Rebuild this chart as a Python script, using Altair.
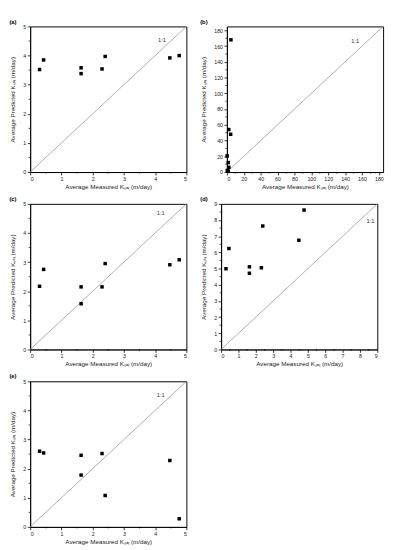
import altair as alt
import pandas as pd

measured = [0.30, 0.43, 1.63, 1.63, 2.30, 2.40, 4.47, 4.77]
pred_a = [3.52, 3.85, 3.58, 3.38, 3.54, 3.97, 3.92, 4.00]
pred_b = [20.5, 2.0, 12.0, 1.0, 54.0, 6.0, 48.0, 168.0]
pred_c = [2.17, 2.75, 2.15, 1.57, 2.15, 2.95, 2.91, 3.08]
pred_d = [4.99, 6.24, 5.11, 4.71, 5.05, 7.63, 6.75, 8.62]
pred_e = [2.60, 2.54, 2.46, 1.78, 2.52, 1.08, 2.28, 0.28]
measured_d = [0.28, 0.45, 1.63, 1.63, 2.32, 2.40, 4.48, 4.78]

ticks_5 = [0, 1, 2, 3, 4, 5]
minor_5 = [0.5, 1.5, 2.5, 3.5, 4.5]
ticks_b = [0, 20, 40, 60, 80, 100, 120, 140, 160, 180]
minor_b = [10, 30, 50, 70, 90, 110, 130, 150, 170]
ticks_d = [0, 1, 2, 3, 4, 5, 6, 7, 8, 9]
minor_d = [0.5, 1.5, 2.5, 3.5, 4.5, 5.5, 6.5, 7.5, 8.5]

XT = "Average Measured Kₛₐₜ (m/day)"
YT = "Average Predicted Kₛₐₜ (m/day)"
W, H = 162, 151


def panel(xs, ys, label, dmax, ticks, minor, lx, ly):
    df = pd.DataFrame({"x": xs, "y": ys})
    sx = alt.Scale(domain=[0, dmax], nice=False, zero=False)
    sy = alt.Scale(domain=[0, dmax], nice=False, zero=False)
    ex = alt.X("x:Q", scale=sx, axis=alt.Axis(values=ticks, title=XT, titlePadding=2))
    ey = alt.Y("y:Q", scale=sy, axis=alt.Axis(values=ticks, title=YT, titlePadding=8))
    diag = alt.Chart(pd.DataFrame({"x": [0, dmax], "y": [0, dmax]})).mark_line(
        color="#999999", strokeWidth=0.8).encode(x=ex, y=ey)
    mx = alt.Chart(pd.DataFrame({"x": minor})).mark_rule(
        color="black", strokeWidth=0.7).encode(x=ex, y=alt.value(H), y2=alt.value(H + 1.6))
    my = alt.Chart(pd.DataFrame({"y": minor})).mark_rule(
        color="black", strokeWidth=0.7).encode(y=ey, x=alt.value(0), x2=alt.value(-1.6))
    pts = alt.Chart(df).mark_square(size=13, color="black", opacity=1).encode(x=ex, y=ey)
    txt = alt.Chart(pd.DataFrame({"x": [lx], "y": [ly], "t": ["1:1"]})).mark_text(
        fontSize=6, color="#333333", font="Liberation Sans").encode(x=ex, y=ey, text="t:N")
    return alt.layer(diag, mx, my, pts, txt).properties(
        width=W, height=H,
        title=alt.TitleParams(label, anchor="start", frame="bounds", fontSize=6,
                              fontWeight="bold", font="Liberation Sans", offset=0))


a = panel(measured, pred_a, "(a)", 5, ticks_5, minor_5, 4.22, 4.52)
b = panel(measured, pred_b, "(b)", 185, ticks_b, minor_b, 152, 166)
c = panel(measured, pred_c, "(c)", 5, ticks_5, minor_5, 4.18, 4.67)
d = panel(measured_d, pred_d, "(d)", 9, ticks_d, minor_d, 8.6, 7.95)
e = panel(measured, pred_e, "(e)", 5, ticks_5, minor_5, 4.18, 4.52)

row1 = alt.hconcat(a, b, spacing=10)
row2 = alt.hconcat(c, d, spacing=10)
chart = alt.vconcat(row1, row2, e, spacing=5).properties(
    padding={"left": 0, "top": 0, "right": 0, "bottom": 0}
).configure_view(stroke="black", strokeWidth=1).configure_axis(
    labelFontSize=5.5, titleFontSize=6.5, labelFont="Liberation Sans",
    titleFont="Liberation Sans", titleFontWeight="normal", grid=False,
    domainColor="black", tickColor="black", labelColor="#222222", titleColor="#222222",
    tickSize=3, labelPadding=1.5, domainWidth=0.8, tickWidth=0.8
)

chart.save("out.html", embed_options={"renderer": "svg", "actions": False})
